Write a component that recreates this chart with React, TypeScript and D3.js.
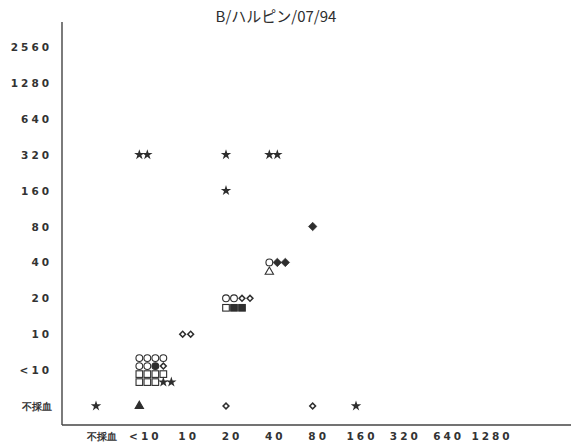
import React, { useEffect, useRef } from 'react';
import * as d3 from 'd3';

// titer categories (x = one serum, y = the other)
const xLabels = ['不採血', '<10', '10', '20', '40', '80', '160', '320', '640', '1280'];
const yLabels = ['不採血', '<10', '10', '20', '40', '80', '160', '320', '640', '1280', '2560'];

// symbols per cell, row by row
// o open circle, c filled circle, d open diamond, s open square, S filled square
// * star, D filled diamond, t open triangle, T filled triangle
const cellX = ['不採血', '<10', '20', '80', '160', '<10', '10', '20', '40', '80', '20', '<10', '20', '40'];
const cellY = ['不採血', '不採血', '不採血', '不採血', '不採血', '<10', '10', '20', '40', '80', '160', '320', '320', '320'];
const cellRows = [
  ['*'],
  ['T'],
  ['d'],
  ['d'],
  ['*'],
  ['oooo', 'oocd', 'ssss', 'sss**'],
  ['dd'],
  ['oodd', 'sSS'],
  ['oDD', 't'],
  ['D'],
  ['*'],
  ['**'],
  ['*'],
  ['**'],
];

const title = 'B/ハルピン/07/94';

const App = () => {
  const ref = useRef<SVGSVGElement>(null);

  useEffect(() => {
    const width = 571;
    const height = 443;
    const svg = d3.select(ref.current);
    svg.selectAll('*').remove();

    const x = d3.scalePoint<string>().domain(xLabels).range([96, 486]);
    const y = d3.scalePoint<string>().domain(yLabels).range([406, 47]);

    const ink = '#2e2e2e';
    const tickFont = "'DejaVu Sans', sans-serif";

    svg.append('rect').attr('width', width).attr('height', height).attr('fill', '#fff');

    svg.append('text')
      .attr('x', 276).attr('y', 22)
      .attr('text-anchor', 'middle')
      .attr('font-family', "'Noto Sans CJK JP', sans-serif")
      .attr('font-size', 15)
      .attr('fill', ink)
      .text(title);

    // axes
    svg.append('line').attr('x1', 62).attr('x2', 62).attr('y1', 22).attr('y2', 425)
      .attr('stroke', '#444').attr('stroke-width', 1.4);
    svg.append('line').attr('x1', 62).attr('x2', 571).attr('y1', 425).attr('y2', 425)
      .attr('stroke', '#444').attr('stroke-width', 1.4);

    svg.append('g').selectAll('text').data(yLabels).enter().append('text')
      .attr('x', 52)
      .attr('y', d => (y(d) as number) + 4)
      .attr('text-anchor', 'end')
      .attr('font-family', tickFont)
      .attr('font-size', d => (d === '不採血' ? 10 : 10.5))
      .attr('font-weight', 'bold')
      .attr('letter-spacing', d => (d === '不採血' ? 0 : 3))
      .attr('fill', '#333')
      .text(d => d);

    svg.append('g').selectAll('text').data(xLabels).enter().append('text')
      .attr('x', d => (x(d) as number) + 6)
      .attr('y', 440)
      .attr('text-anchor', 'middle')
      .attr('font-family', tickFont)
      .attr('font-size', d => (d === '不採血' ? 10 : 10.5))
      .attr('font-weight', 'bold')
      .attr('letter-spacing', d => (d === '不採血' ? 0 : 3))
      .attr('fill', '#333')
      .text(d => d);

    const step = 8;
    const g = svg.append('g');

    const drawMark = (code: string, cx: number, cy: number) => {
      const tr = `translate(${cx},${cy})`;
      if (code === 'o' || code === 'c') {
        g.append('circle').attr('cx', cx).attr('cy', cy).attr('r', 3.4)
          .attr('fill', code === 'c' ? ink : 'none').attr('stroke', ink).attr('stroke-width', 1.1);
      } else if (code === 's' || code === 'S') {
        g.append('rect').attr('x', cx - 3.3).attr('y', cy - 3.3).attr('width', 6.6).attr('height', 6.6)
          .attr('fill', code === 'S' ? ink : 'none').attr('stroke', ink).attr('stroke-width', 1.1);
      } else if (code === 'd' || code === 'D') {
        const big = code === 'D';
        g.append('path').attr('transform', `${tr} rotate(45)`)
          .attr('d', d3.symbol().type(d3.symbolSquare).size(big ? 36 : 17)())
          .attr('fill', big ? ink : 'none').attr('stroke', ink).attr('stroke-width', big ? 0.6 : 1.5);
      } else if (code === '*') {
        g.append('path').attr('transform', tr)
          .attr('d', d3.symbol().type(d3.symbolStar).size(34)())
          .attr('fill', ink);
      } else if (code === 't' || code === 'T') {
        g.append('path').attr('transform', tr)
          .attr('d', d3.symbol().type(d3.symbolTriangle).size(30)())
          .attr('fill', code === 'T' ? ink : 'none').attr('stroke', ink).attr('stroke-width', 1.1);
      }
    };

    cellRows.forEach((rows, i) => {
      const x0 = x(cellX[i]) as number;
      const yc = y(cellY[i]) as number;
      const y0 = rows.length > 2 ? yc - ((rows.length - 1) * step) / 2 : yc;
      rows.forEach((row, r) => {
        Array.from(row).forEach((code, k) => {
          drawMark(code, x0 + k * step, y0 + r * (rows.length > 2 ? step : 9.5));
        });
      });
    });
  }, []);

  return (
    <svg ref={ref} width={571} height={443}
      style={{ position: 'absolute', left: 0, top: 0, display: 'block' }} />
  );
};

export default App;
